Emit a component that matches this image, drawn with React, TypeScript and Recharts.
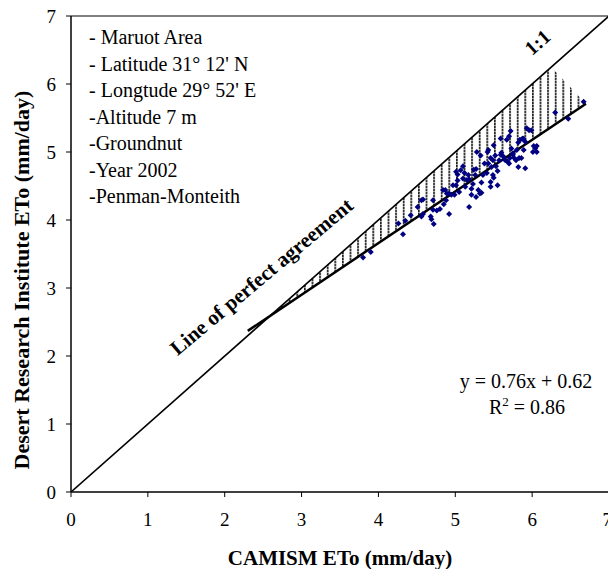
import { ComposedChart, XAxis, YAxis, Line, Scatter, Area, ReferenceLine } from 'recharts';

// axis ticks (both axes 0..7 mm/day)
const ticks = [0, 1, 2, 3, 4, 5, 6, 7];

// measured points: CAMISM ETo vs Desert Research Institute ETo
const camismEto = [
  3.8, 3.9, 4.26, 4.32, 4.35, 4.42, 4.51, 4.56, 4.58, 4.56, 4.58, 4.68, 4.69, 4.72, 4.71, 4.71,
  4.76, 4.8, 4.85, 4.84, 4.88, 4.87, 4.92, 4.89, 4.92, 4.95, 4.97, 4.99, 5.01, 5.03, 5.05, 5.01,
  5.03, 5.07, 5.1, 5.12, 5.1, 5.13, 5.15, 5.18, 5.21, 5.18, 5.17, 5.24, 5.27, 5.21, 5.23, 5.26,
  5.27, 5.3, 5.32, 5.34, 5.28, 5.33, 5.36, 5.34, 5.38, 5.41, 5.42, 5.43, 5.43, 5.46, 5.46, 5.47,
  5.49, 5.46, 5.49, 5.5, 5.52, 5.53, 5.55, 5.55, 5.5, 5.57, 5.6, 5.59, 5.59, 5.63, 5.65, 5.67,
  5.68, 5.7, 5.7, 5.71, 5.72, 5.73, 5.75, 5.76, 5.75, 5.79, 5.8, 5.82, 5.83, 5.84, 5.82, 5.86,
  5.87, 5.88, 5.89, 5.91, 5.93, 5.96, 5.99, 5.89, 5.91, 6.01, 6.02, 6.04, 6.06, 6.06, 6.3, 6.47,
  6.67,
];
const driEto = [
  3.45, 3.53, 3.95, 3.79, 3.99, 4.07, 4.19, 4.29, 4.09, 4.05, 4.3, 4.05, 4.01, 3.94, 4.15, 4.29,
  4.14, 4.16, 4.23, 4.44, 4.29, 4.44, 4.09, 4.39, 4.39, 4.37, 4.51, 4.37, 4.51, 4.58, 4.41, 4.71,
  4.67, 4.73, 4.79, 4.69, 4.61, 4.49, 4.59, 4.19, 4.37, 4.6, 4.66, 4.74, 4.75, 4.46, 4.53, 4.66,
  4.34, 4.44, 4.39, 4.4, 5.0, 4.95, 4.66, 4.55, 4.83, 4.69, 5.0, 5.03, 4.83, 4.56, 4.49, 4.78,
  4.66, 4.91, 4.88, 5.1, 4.95, 4.79, 4.72, 4.51, 4.62, 4.88, 4.99, 5.2, 4.96, 4.93, 4.88, 5.18,
  4.86, 5.23, 4.83, 4.91, 5.31, 5.05, 4.96, 4.92, 4.98, 4.88, 5.03, 4.78, 4.91, 5.18, 5.14, 4.91,
  5.19, 5.2, 5.19, 4.76, 5.35, 5.32, 5.32, 5.03, 5.15, 5.0, 5.09, 5.05, 5.09, 5.0, 5.58, 5.49,
  5.74,
];

// 1:1 line and fitted line y = 0.76x + 0.62
const perfectX = [0, 7];
const perfectY = [0, 7];
const fitX = [2.3, 6.7];
const fitY = [2.37, 5.71];

// hatched band between the two lines
const bandX = [2.58, 6.25, 6.7];
const bandLow = [2.58, 5.37, 5.71];
const bandHigh = [2.58, 6.25, 5.71];

const infoLines = [
  '- Maruot Area',
  "- Latitude 31° 12' N",
  "- Longtude 29° 52' E",
  '-Altitude 7 m',
  '-Groundnut',
  '-Year 2002',
  '-Penman-Monteith',
];

const points = camismEto.map((x, i) => ({ x, y: driEto[i] }));
const perfectData = perfectX.map((x, i) => ({ x, y: perfectY[i] }));
const fitData = fitX.map((x, i) => ({ x, y: fitY[i] }));
const bandData = bandX.map((x, i) => ({ x, lo: bandLow[i], hi: bandHigh[i] }));

const FONT = '"Liberation Serif", "Times New Roman", serif';

const Diamond = (props: any) => {
  const { cx, cy } = props;
  if (cx == null || cy == null) return null;
  const r = 3;
  return (
    <polygon
      points={`${cx},${cy - r} ${cx + r},${cy} ${cx},${cy + r} ${cx - r},${cy}`}
      fill="#000080"
    />
  );
};

export default function App() {
  const tickStyle = { fill: '#000', fontSize: 19, fontFamily: FONT };
  return (
    <div style={{ position: 'absolute', left: 0, top: 0, width: 608, height: 569, overflow: 'hidden', background: '#fff' }}>
      <ComposedChart width={612} height={569} margin={{ top: 16, right: 3, bottom: 0, left: 0 }}>
        <defs>
          <pattern id="hatch" patternUnits="userSpaceOnUse" width={7.6} height={3}>
            <rect x={0} y={0} width={1.7} height={2} fill="#222" />
            <rect x={0} y={2} width={1.7} height={1} fill="#999" />
          </pattern>
        </defs>
        <XAxis
          type="number"
          dataKey="x"
          domain={[0, 7]}
          ticks={ticks}
          allowDataOverflow
          height={77}
          tickSize={5}
          tickMargin={16}
          tick={tickStyle}
          axisLine={{ stroke: '#000', strokeWidth: 1.5 }}
          tickLine={{ stroke: '#000' }}
          label={{
            value: 'CAMISM ETo (mm/day)',
            position: 'insideBottom',
            offset: 4,
            fill: '#000',
            fontSize: 21,
            fontWeight: 'bold',
            fontFamily: FONT,
          }}
        />
        <YAxis
          type="number"
          dataKey="y"
          domain={[0, 7]}
          ticks={ticks}
          allowDataOverflow
          width={71}
          tickSize={5}
          tickMargin={10}
          tick={tickStyle}
          axisLine={{ stroke: '#000', strokeWidth: 1.5 }}
          tickLine={{ stroke: '#000' }}
          label={{
            value: 'Desert Research Institute  ETo (mm/day)',
            position: 'center',
            angle: -90,
            dx: -14,
            dy: 26,
            fill: '#000',
            fontSize: 22,
            fontWeight: 'bold',
            fontFamily: FONT,
            style: { whiteSpace: 'pre' },
          }}
        />
        <ReferenceLine y={7} stroke="#000" strokeWidth={1.2} />
        <Area
          data={bandData}
          dataKey={(d: any) => [d.lo, d.hi]}
          type="linear"
          stroke="none"
          fill="url(#hatch)"
          fillOpacity={1}
          isAnimationActive={false}
          dot={false}
          activeDot={false}
        />
        <Line data={perfectData} dataKey="y" type="linear" stroke="#000" strokeWidth={1.6} dot={false} activeDot={false} isAnimationActive={false} />
        <Line data={fitData} dataKey="y" type="linear" stroke="#000" strokeWidth={2.5} dot={false} activeDot={false} isAnimationActive={false} />
        <Scatter data={points} dataKey="y" shape={<Diamond />} isAnimationActive={false} />
      </ComposedChart>
      <svg
        width={608}
        height={569}
        style={{ position: 'absolute', left: 0, top: 0, pointerEvents: 'none', fontFamily: FONT }}
      >
        {infoLines.map((t, i) => (
          <text key={t} x={89} y={44 + i * 26.5} fontSize={20} fill="#000" style={{ whiteSpace: 'pre' }}>
            {t}
          </text>
        ))}
        <text
          x={266}
          y={282}
          fontSize={21}
          fontWeight="bold"
          textAnchor="middle"
          transform="rotate(-40 266 282)"
          fill="#000"
        >
          Line of perfect agreement
        </text>
        <text x={538} y={49} fontSize={20} fontWeight="bold" textAnchor="middle" transform="rotate(-41.5 538 43)" fill="#000">
          1:1
        </text>
        <text x={526} y={388} fontSize={20} textAnchor="middle" fill="#000">
          y = 0.76x + 0.62
        </text>
        <text x={527} y={414} fontSize={20} textAnchor="middle" fill="#000">
          R<tspan dy={-8} fontSize={13}>2</tspan><tspan dy={8}> = 0.86</tspan>
        </text>
      </svg>
    </div>
  );
}
